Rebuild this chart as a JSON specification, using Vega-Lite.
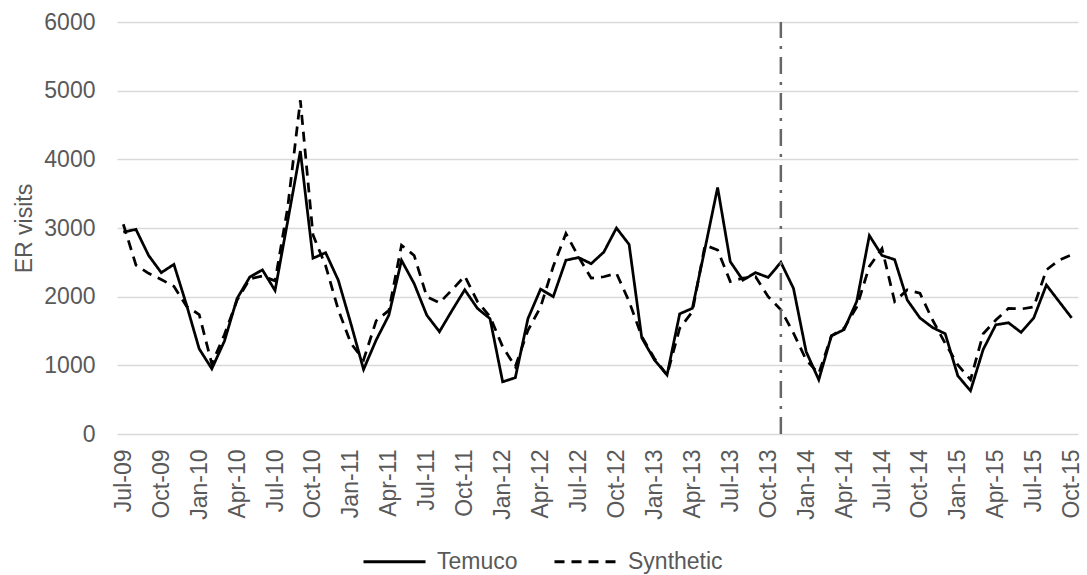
{
  "$schema": "https://vega.github.io/schema/vega-lite/v6.json",
  "width": 961,
  "height": 412,
  "autosize": {"type": "none"},
  "padding": {"left": 117, "top": 22, "right": 9, "bottom": 141},
  "background": "white",
  "config": {
    "font": "Liberation Sans",
    "view": {"stroke": null},
    "axis": {"labelColor": "#595959", "titleColor": "#595959", "labelFontSize": 23, "titleFontSize": 23, "titleFontWeight": "normal"},
    "legend": {"labelColor": "#595959", "labelFontSize": 23}
  },
  "data": {
    "values": [
      {"month": "Jul-09", "Temuco": 2940, "Synthetic": 3055},
      {"month": "Aug-09", "Temuco": 2980, "Synthetic": 2460},
      {"month": "Sep-09", "Temuco": 2600, "Synthetic": 2340},
      {"month": "Oct-09", "Temuco": 2350, "Synthetic": 2250},
      {"month": "Nov-09", "Temuco": 2470, "Synthetic": 2150},
      {"month": "Dec-09", "Temuco": 1880, "Synthetic": 1860},
      {"month": "Jan-10", "Temuco": 1240, "Synthetic": 1740},
      {"month": "Feb-10", "Temuco": 950, "Synthetic": 1020},
      {"month": "Mar-10", "Temuco": 1355, "Synthetic": 1450},
      {"month": "Apr-10", "Temuco": 1975, "Synthetic": 1950},
      {"month": "May-10", "Temuco": 2285, "Synthetic": 2260},
      {"month": "Jun-10", "Temuco": 2390, "Synthetic": 2300},
      {"month": "Jul-10", "Temuco": 2090, "Synthetic": 2230},
      {"month": "Aug-10", "Temuco": 3100, "Synthetic": 3300},
      {"month": "Sep-10", "Temuco": 4120, "Synthetic": 4860},
      {"month": "Oct-10", "Temuco": 2560, "Synthetic": 2900},
      {"month": "Nov-10", "Temuco": 2640, "Synthetic": 2450},
      {"month": "Dec-10", "Temuco": 2240, "Synthetic": 1810},
      {"month": "Jan-11", "Temuco": 1605, "Synthetic": 1320},
      {"month": "Feb-11", "Temuco": 940, "Synthetic": 1080},
      {"month": "Mar-11", "Temuco": 1370, "Synthetic": 1650},
      {"month": "Apr-11", "Temuco": 1730, "Synthetic": 1800},
      {"month": "May-11", "Temuco": 2530, "Synthetic": 2750},
      {"month": "Jun-11", "Temuco": 2190, "Synthetic": 2600},
      {"month": "Jul-11", "Temuco": 1730, "Synthetic": 2000},
      {"month": "Aug-11", "Temuco": 1490, "Synthetic": 1910},
      {"month": "Sep-11", "Temuco": 1800, "Synthetic": 2100},
      {"month": "Oct-11", "Temuco": 2100, "Synthetic": 2300},
      {"month": "Nov-11", "Temuco": 1830, "Synthetic": 1930},
      {"month": "Dec-11", "Temuco": 1680, "Synthetic": 1710},
      {"month": "Jan-12", "Temuco": 760, "Synthetic": 1270},
      {"month": "Feb-12", "Temuco": 820, "Synthetic": 980},
      {"month": "Mar-12", "Temuco": 1680, "Synthetic": 1510},
      {"month": "Apr-12", "Temuco": 2110, "Synthetic": 1850},
      {"month": "May-12", "Temuco": 2000, "Synthetic": 2440},
      {"month": "Jun-12", "Temuco": 2530, "Synthetic": 2920},
      {"month": "Jul-12", "Temuco": 2570, "Synthetic": 2580},
      {"month": "Aug-12", "Temuco": 2480, "Synthetic": 2270},
      {"month": "Sep-12", "Temuco": 2650, "Synthetic": 2290},
      {"month": "Oct-12", "Temuco": 3000, "Synthetic": 2340},
      {"month": "Nov-12", "Temuco": 2760, "Synthetic": 1930},
      {"month": "Dec-12", "Temuco": 1400, "Synthetic": 1420},
      {"month": "Jan-13", "Temuco": 1080, "Synthetic": 1100},
      {"month": "Feb-13", "Temuco": 860, "Synthetic": 860},
      {"month": "Mar-13", "Temuco": 1750, "Synthetic": 1540},
      {"month": "Apr-13", "Temuco": 1830, "Synthetic": 1780},
      {"month": "May-13", "Temuco": 2700, "Synthetic": 2750},
      {"month": "Jun-13", "Temuco": 3590, "Synthetic": 2680},
      {"month": "Jul-13", "Temuco": 2510, "Synthetic": 2220},
      {"month": "Aug-13", "Temuco": 2240, "Synthetic": 2270},
      {"month": "Sep-13", "Temuco": 2350, "Synthetic": 2290},
      {"month": "Oct-13", "Temuco": 2280, "Synthetic": 2000},
      {"month": "Nov-13", "Temuco": 2500, "Synthetic": 1810},
      {"month": "Dec-13", "Temuco": 2120, "Synthetic": 1470},
      {"month": "Jan-14", "Temuco": 1200, "Synthetic": 1080},
      {"month": "Feb-14", "Temuco": 790, "Synthetic": 880},
      {"month": "Mar-14", "Temuco": 1430, "Synthetic": 1430},
      {"month": "Apr-14", "Temuco": 1520, "Synthetic": 1540},
      {"month": "May-14", "Temuco": 1930, "Synthetic": 1850},
      {"month": "Jun-14", "Temuco": 2890, "Synthetic": 2440},
      {"month": "Jul-14", "Temuco": 2600, "Synthetic": 2700},
      {"month": "Aug-14", "Temuco": 2540, "Synthetic": 1930},
      {"month": "Sep-14", "Temuco": 1950, "Synthetic": 2100},
      {"month": "Oct-14", "Temuco": 1690, "Synthetic": 2050},
      {"month": "Nov-14", "Temuco": 1550, "Synthetic": 1660},
      {"month": "Dec-14", "Temuco": 1460, "Synthetic": 1320},
      {"month": "Jan-15", "Temuco": 845, "Synthetic": 1005},
      {"month": "Feb-15", "Temuco": 630, "Synthetic": 790},
      {"month": "Mar-15", "Temuco": 1230, "Synthetic": 1460},
      {"month": "Apr-15", "Temuco": 1590, "Synthetic": 1660},
      {"month": "May-15", "Temuco": 1620, "Synthetic": 1830},
      {"month": "Jun-15", "Temuco": 1480, "Synthetic": 1820},
      {"month": "Jul-15", "Temuco": 1690, "Synthetic": 1850},
      {"month": "Aug-15", "Temuco": 2170, "Synthetic": 2390},
      {"month": "Sep-15", "Temuco": 1930, "Synthetic": 2530},
      {"month": "Oct-15", "Temuco": 1690, "Synthetic": 2610}
    ]
  },
  "encoding": {
    "x": {
      "field": "month",
      "type": "ordinal",
      "scale": {
        "type": "point",
        "padding": 0.5,
        "domain": ["Jul-09","Aug-09","Sep-09","Oct-09","Nov-09","Dec-09","Jan-10","Feb-10","Mar-10","Apr-10","May-10","Jun-10","Jul-10","Aug-10","Sep-10","Oct-10","Nov-10","Dec-10","Jan-11","Feb-11","Mar-11","Apr-11","May-11","Jun-11","Jul-11","Aug-11","Sep-11","Oct-11","Nov-11","Dec-11","Jan-12","Feb-12","Mar-12","Apr-12","May-12","Jun-12","Jul-12","Aug-12","Sep-12","Oct-12","Nov-12","Dec-12","Jan-13","Feb-13","Mar-13","Apr-13","May-13","Jun-13","Jul-13","Aug-13","Sep-13","Oct-13","Nov-13","Dec-13","Jan-14","Feb-14","Mar-14","Apr-14","May-14","Jun-14","Jul-14","Aug-14","Sep-14","Oct-14","Nov-14","Dec-14","Jan-15","Feb-15","Mar-15","Apr-15","May-15","Jun-15","Jul-15","Aug-15","Sep-15","Oct-15"]
      },
      "axis": {
        "title": null,
        "values": ["Jul-09","Oct-09","Jan-10","Apr-10","Jul-10","Oct-10","Jan-11","Apr-11","Jul-11","Oct-11","Jan-12","Apr-12","Jul-12","Oct-12","Jan-13","Apr-13","Jul-13","Oct-13","Jan-14","Apr-14","Jul-14","Oct-14","Jan-15","Apr-15","Jul-15","Oct-15"],
        "labelAngle": 270,
        "labelPadding": 15,
        "ticks": false,
        "domain": false,
        "grid": false
      }
    }
  },
  "layer": [
    {
      "transform": [{"fold": ["Temuco", "Synthetic"], "as": ["series", "visits"]}],
      "mark": {"type": "line", "color": "black", "strokeWidth": 2.75, "strokeJoin": "miter"},
      "encoding": {
        "y": {
          "field": "visits",
          "type": "quantitative",
          "scale": {"domain": [0, 6000], "nice": false},
          "axis": {
            "title": "ER visits",
            "format": "d",
            "values": [0, 1000, 2000, 3000, 4000, 5000, 6000],
            "ticks": false,
            "domain": false,
            "labelPadding": 22,
            "gridColor": "#d9d9d9",
            "gridWidth": 1.5,
            "titleX": -86,
            "titleY": 206,
            "titleBaseline": "alphabetic",
            "titleAngle": 270
          }
        },
        "strokeDash": {
          "field": "series",
          "type": "nominal",
          "scale": {"domain": ["Temuco", "Synthetic"], "range": [[1, 0], [10, 7]]},
          "legend": {
            "title": null,
            "orient": "none",
            "legendX": 245,
            "legendY": 507,
            "direction": "horizontal",
            "symbolType": "stroke",
            "symbolSize": 3844,
            "symbolStrokeWidth": 3,
            "symbolStrokeColor": "black",
            "labelOffset": 10,
            "columnPadding": 30,
            "padding": 0
          }
        }
      }
    },
    {
      "transform": [{"filter": "datum.month === 'Nov-13'"}],
      "mark": {"type": "rule", "color": "#666666", "strokeWidth": 2.5, "strokeDash": [17, 8, 3, 8]},
      "encoding": {
        "y": {"datum": 0},
        "y2": {"datum": 6000}
      }
    }
  ]
}
